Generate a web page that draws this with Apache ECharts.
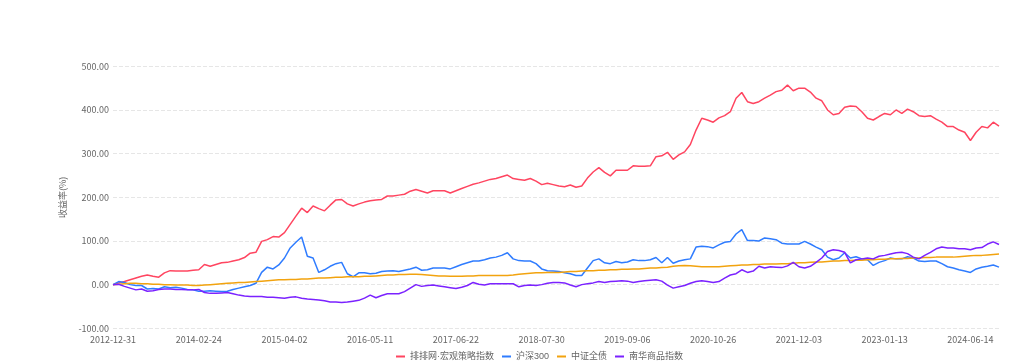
<!DOCTYPE html>
<html>
<head>
<meta charset="utf-8">
<script src="https://cdn.jsdelivr.net/npm/echarts/dist/echarts.min.js"></script>
<style>
html,body{margin:0;padding:0;background:#fff;}
#chart{width:1014px;height:363px;}
</style>
</head>
<body>
<div id="chart"></div>
<script>
// Tick label dates (every 15th category)
var tickLabels = ['2012-12-31','2014-02-24','2015-04-02','2016-05-11','2017-06-22','2018-07-30','2019-09-06','2020-10-26','2021-12-03','2023-01-13','2024-06-14'];
var seriesNames = ['排排网·宏观策略指数','沪深300','中证全债','南华商品指数'];

var macroIndex = [
0,4,7,11,15,19,22,19,17,27,
32,31,31,31,33,34,46,42,46,50,
51,54,57,62,72,74,99,103,110,109,
119,138,157,175,165,180,174,169,182,194,
195,185,180,185,189,192,194,195,203,203,
205,207,214,218,214,210,215,215,215,210,
215,220,225,230,233,237,241,243,247,251,
243,241,239,243,237,229,232,229,226,224,
228,223,226,244,258,268,257,249,262,262,
262,272,271,271,272,293,295,303,287,297,
304,321,354,381,377,372,382,387,396,427,
440,419,415,419,427,434,442,445,457,444,
450,450,441,427,421,400,389,392,406,409,
408,396,381,377,385,392,389,400,392,402,
396,387,385,387,379,372,362,362,354,349,
330,349,362,359,372,363];

var hs300 = [
0,7,5,0,-2,-2,-10,-9,-10,-5,
-7,-6,-8,-11,-12,-15,-15,-14,-15,-16,
-15,-11,-8,-5,-2,3,28,40,36,45,
61,84,97,109,65,61,28,34,42,48,
51,25,18,27,27,25,26,30,31,32,
30,33,36,40,33,34,38,38,38,36,
41,46,50,54,54,57,61,63,67,73,
59,55,54,54,48,36,32,31,30,27,
25,21,21,38,55,59,50,48,53,50,
52,57,55,55,57,62,50,62,49,54,
57,59,86,88,87,84,91,97,99,116,
126,101,101,100,107,105,103,95,93,93,
93,99,93,86,80,63,57,61,73,61,
64,59,57,44,51,55,61,59,59,64,
61,54,53,54,54,48,41,38,34,31,
28,36,40,42,45,40];

var bondIndex = [
0,1,2,3,3,2,2,1,1,0,
0,-1,-1,-1,-2,-2,-1,0,1,2,
3,4,5,5,6,7,8,9,10,11,
11,12,12,13,13,14,15,15,16,17,
17,18,18,18,19,19,20,21,22,22,
23,23,24,24,23,22,21,20,20,19,
19,19,20,20,21,21,21,21,21,21,
22,24,25,26,27,27,28,28,28,29,
30,30,31,32,32,33,33,34,34,35,
35,36,36,37,38,38,39,40,42,43,
44,43,42,41,41,41,41,42,43,44,
45,45,46,46,47,47,47,48,48,49,
50,50,51,52,52,53,54,54,55,55,
56,56,57,57,58,58,59,59,60,60,
61,61,62,62,63,63,63,63,64,65,
66,67,67,68,69,70];

var commodityIndex = [
0,1,-4,-8,-12,-10,-15,-14,-11,-10,
-10,-11,-11,-12,-12,-11,-18,-20,-20,-19,
-18,-21,-24,-26,-27,-27,-27,-29,-29,-30,
-31,-29,-28,-31,-33,-34,-35,-37,-40,-40,
-41,-40,-38,-36,-31,-24,-30,-25,-21,-21,
-21,-16,-8,0,-4,-2,-1,-3,-5,-7,
-9,-6,-2,5,1,-1,2,2,2,2,
2,-5,-2,-1,-2,0,3,5,5,4,
-1,-5,0,2,4,7,5,7,8,9,
8,5,7,9,10,11,8,-1,-8,-5,
-2,3,7,9,7,5,7,15,22,25,
34,28,31,42,38,41,40,39,43,51,
41,38,42,51,61,76,80,78,74,50,
57,59,61,59,65,67,70,73,74,71,
63,59,67,74,82,86,84,84,82,82,
80,84,85,93,98,92];

// Build the category dates: tick dates every 15 points, intermediate dates filled in between
var STEP = 15;
function fmt(t){var d=new Date(t);var m=d.getUTCMonth()+1,dd=d.getUTCDate();return d.getUTCFullYear()+'-'+(m<10?'0':'')+m+'-'+(dd<10?'0':'')+dd;}
function parse(s){var p=s.split('-');return Date.UTC(+p[0],+p[1]-1,+p[2]);}
var categories = [];
for (var i = 0; i < macroIndex.length; i++) {
  var seg = Math.floor(i / STEP), k = i % STEP;
  if (k === 0 && seg < tickLabels.length) { categories.push(tickLabels[seg]); continue; }
  var a, b;
  if (seg < tickLabels.length - 1) { a = parse(tickLabels[seg]); b = parse(tickLabels[seg+1]); }
  else { a = parse(tickLabels[tickLabels.length-1]); b = a + 86400000*7*STEP; }
  categories.push(fmt(a + (b - a) * k / STEP));
}

var colors = ['#ff4560','#2f7cff','#f2a30f','#7b22ff'];
var font = "'Noto Sans CJK SC','Noto Sans',sans-serif";
var legendFont = "'Liberation Sans','Noto Sans CJK SC',sans-serif";
var chart = echarts.init(document.getElementById('chart'), null, {renderer:'canvas'});
var datasets = [macroIndex, hs300, bondIndex, commodityIndex];
chart.setOption({
  animation: false,
  color: colors,
  textStyle: {fontFamily: font},
  legend: {
    left: 391, top: 347,
    icon: 'rect', itemWidth: 9, itemHeight: 2, itemGap: 8,
    textStyle: {fontSize: 9, color: '#666', fontFamily: legendFont},
    data: seriesNames
  },
  grid: {left: 113, right: 15, top: 66.3, bottom: 34.7},
  xAxis: {
    type: 'category',
    data: categories,
    boundaryGap: false,
    axisLine: {show: false},
    axisTick: {show: false},
    axisLabel: {interval: STEP - 1, fontSize: 9, color: '#666', margin: 7, fontFamily: font},
    splitLine: {show: false}
  },
  yAxis: {
    type: 'value',
    min: -100, max: 500, interval: 100,
    name: '收益率(%)',
    nameLocation: 'middle',
    nameGap: 43,
    nameTextStyle: {fontSize: 9, color: '#666', fontFamily: font},
    axisLine: {show: false},
    axisTick: {show: false},
    axisLabel: {fontSize: 9, color: '#666', margin: 4, fontFamily: font, formatter: function(v){return v.toFixed(2);}},
    splitLine: {lineStyle: {type: 'dashed', color: '#e6e6e6'}}
  },
  series: datasets.map(function(d, idx){
    return {
      name: seriesNames[idx], type: 'line', data: d,
      showSymbol: false, symbol: 'none',
      lineStyle: {width: 1.5, color: colors[idx]},
      itemStyle: {color: colors[idx]}
    };
  })
});
</script>
</body>
</html>
